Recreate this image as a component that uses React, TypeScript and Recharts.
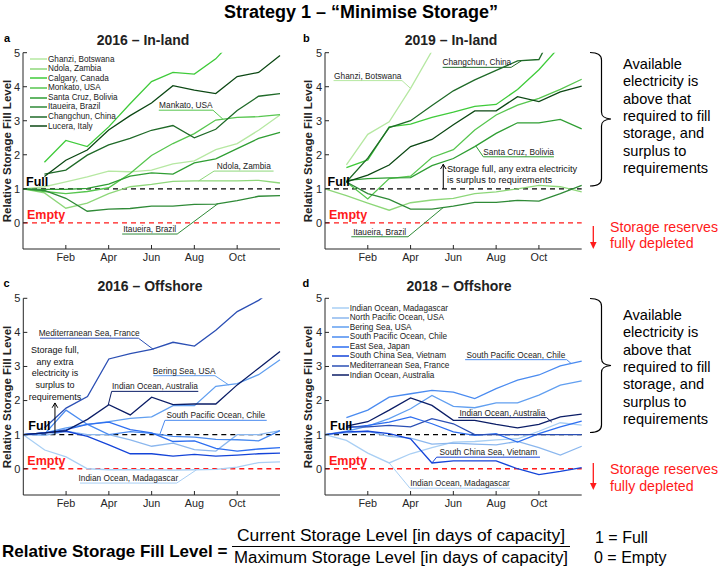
import React from "react";
import {
  LineChart,
  Line,
  XAxis,
  YAxis,
  ReferenceLine,
  ReferenceDot,
  Legend,
} from "recharts";

const FONT = '"Liberation Sans", Arial, Helvetica, sans-serif';

// month steps (0 = start of Jan ... 12 = end of Dec)
const MONTHS = [0, 1, 2, 3, 4, 5, 6, 7, 8, 9, 10, 11, 12];
const TICK_MONTHS = [2, 4, 6, 8, 10];
const TICK_LABELS = ["Feb", "Apr", "Jun", "Aug", "Oct"];
const Y_TICKS = [0, 1, 2, 3, 4, 5];
const Y_DOMAIN: [number, number] = [-0.77, 5];

const INLAND_SITES = [
  "Ghanzi, Botswana",
  "Ndola, Zambia",
  "Calgary, Canada",
  "Monkato, USA",
  "Santa Cruz, Bolivia",
  "Itaueira, Brazil",
  "Changchun, China",
  "Lucera, Italy",
];

const OFFSHORE_SITES = [
  "Indian Ocean, Madagascar",
  "North Pacific Ocean, USA",
  "Bering Sea, USA",
  "South Pacific Ocean, Chile",
  "East Sea, Japan",
  "South China Sea, Vietnam",
  "Mediterranean Sea, France",
  "Indian Ocean, Australia",
];

const GREENS = ["#b6e8a2", "#8ed77a", "#3fcb3a", "#57c64f", "#2f9e33", "#2f8a37", "#1f6a28", "#0c4814"];
const BLUES = ["#a9cff4", "#8bb7ee", "#619ff0", "#4a8bf0", "#2d6ef0", "#1444d8", "#2b4fb4", "#0b1d66"];

// one list per site, in the order of the site lists above
const INLAND_2016: (number | null)[][] = [
  [1.0, 1.06, 1.2, 1.35, 1.52, 1.5, 1.55, 1.73, 1.82, 2.15, 2.33, 2.72, 3.17],
  [1.0, 0.88, 0.43, 0.58, 0.86, 1.06, 1.13, 1.22, 1.23, 1.23, 1.23, 1.25, 1.17],
  [null, 1.78, 2.42, 2.24, 2.82, 3.5, 4.15, 4.42, 4.37, 4.82, 5.5, 6.1, 6.6],
  [1.0, 0.92, 0.86, 0.92, 1.03, 1.45, 1.98, 2.33, 2.62, 3.02, 3.1, 3.12, 3.18],
  [1.0, 0.98, 0.98, 1.01, 1.14, 1.37, 1.47, 1.43, 1.76, 1.88, 2.18, 2.48, 2.66],
  [1.0, 0.95, 0.72, 0.34, 0.4, 0.42, 0.49, 0.49, 0.54, 0.55, 0.65, 0.78, 0.8],
  [null, 1.43, 1.55, 1.99, 2.29, 2.48, 2.72, 2.86, 2.5, 2.75, 3.3, 3.72, 3.8],
  [null, 1.36, 1.84, 2.14, 2.73, 3.15, 3.52, 4.03, 3.9, 3.8, 4.3, 4.42, 4.92],
];

const INLAND_2019: (number | null)[][] = [
  [null, 1.7, 2.6, 2.97, 3.95, 5.05, 6.0, 6.8, 7.5, 8.0, 8.5, 9.0, 9.5],
  [1.0, 0.8, 0.58, 0.37, 0.59, 0.67, 0.72, 0.86, 0.91, 1.0, 1.1, 1.06, 0.91],
  [null, 1.62, 1.85, 2.82, 2.9, 3.1, 3.25, 3.42, 3.48, 3.92, 4.5, 5.2, 5.9],
  [null, 1.2, 0.7, 1.3, 1.37, 1.92, 2.15, 2.73, 3.17, 3.46, 3.66, 3.92, 4.22],
  [null, 1.25, 1.3, 1.32, 1.33, 1.68, 1.89, 2.24, 2.63, 2.94, 2.94, 3.04, 2.76],
  [null, 1.2, 0.86, 0.69, 0.4, 0.4, 0.49, 0.6, 0.6, 0.66, 0.64, 0.86, 1.1],
  [null, 1.2, 1.9, 2.8, 3.0, 3.45, 3.88, 4.2, 4.48, 4.76, 4.8, 6.0, 7.0],
  [null, 1.2, 1.4, 1.7, 2.24, 2.45, 2.88, 3.29, 3.29, 3.71, 3.56, 3.85, 4.02],
];

const OFFSHORE_2016: (number | null)[][] = [
  [1.0, 0.55, 0.35, 0.0, -0.03, -0.03, -0.03, -0.04, -0.03, -0.02, 0.05, 0.18, 0.2],
  [1.0, 0.98, 1.1, 1.0, 1.0, 0.85, 0.66, 0.75, 0.56, 0.52, 1.0, 1.0, 1.12],
  [1.0, 1.05, 1.2, 1.3, 1.38, 1.48, 1.52, 1.85, 1.85, 2.42, 2.5, 2.76, 3.2],
  [1.0, 1.02, 1.72, 1.3, 1.0, 1.09, 1.04, 0.95, 0.93, 0.86, 0.85, 0.82, 1.12],
  [1.0, 1.05, 1.15, 1.3, 1.37, 1.15, 1.05, 0.8, 0.82, 0.6, 0.52, 0.58, 0.62],
  [1.0, 1.05, 1.1, 0.95, 0.7, 0.44, 0.44, 0.37, 0.42, 0.37, 0.4, 0.44, 0.46],
  [null, 1.2, 1.78, 2.12, 3.22, 3.38, 3.5, 3.71, 3.6, 4.06, 4.61, 4.94, 5.4],
  [1.0, 1.05, 1.12, 1.45, 1.88, 1.58, 2.1, 1.88, 1.9, 1.9, 2.46, 2.95, 3.44],
];

const OFFSHORE_2018: (number | null)[][] = [
  [1.0, 0.83, 0.46, 0.17, 0.44, 0.62, 0.78, 0.8, 0.85, 0.88, 1.1, 1.35, 1.28],
  [1.0, 1.05, 1.1, 0.95, 0.9, 0.72, 0.75, 0.72, 0.7, 0.8, 0.62, 0.4, 0.66],
  [1.0, 1.1, 1.25, 1.47, 1.76, 2.15, 1.83, 1.79, 1.93, 1.93, 2.16, 2.45, 2.58],
  [null, 1.5, 1.72, 2.1, 2.2, 2.3, 2.25, 2.06, 2.35, 2.6, 2.75, 3.02, 3.16],
  [null, 1.2, 1.27, 1.37, 1.52, 1.32, 1.08, 0.98, 1.03, 0.78, 1.03, 1.23, 1.4],
  [1.0, 1.08, 1.1, 1.03, 0.88, 0.17, 0.23, 0.23, 0.23, 0.0, -0.17, -0.08, 0.03],
  [null, 1.23, 1.23, 1.27, 1.23, 1.47, 1.32, 1.0, 1.0, 1.0, 1.0, 1.0, 1.0],
  [null, 1.25, 1.38, 1.72, 2.08, 1.86, 1.42, 1.42, 1.3, 1.2, 1.3, 1.52, 1.6],
];

type Callout = {
  text: string;
  series: number;
  under: [number, number, number]; // x1, x2, y of the underline
  tip: [number, number]; // point on the series
};

const CALLOUTS_A: Callout[] = [
  { text: "Mankato, USA", series: 3, under: [6.34, 8.87, 3.31], tip: [9.33, 3.05] },
  { text: "Ndola, Zambia", series: 1, under: [8.92, 11.7, 1.52], tip: [8.2, 1.23] },
  { text: "Itaueira, Brazil", series: 5, under: [4.63, 7.2, -0.33], tip: [9.1, 0.56] },
];
const CALLOUTS_B: Callout[] = [
  { text: "Ghanzi, Botswana", series: 0, under: [0.4, 3.6, 4.18], tip: [4.0, 3.95] },
  { text: "Changchun, China", series: 6, under: [5.5, 8.7, 4.57], tip: [9.2, 4.77] },
  { text: "Santa Cruz, Bolivia", series: 4, under: [7.4, 10.7, 1.94], tip: [7.05, 2.26] },
  { text: "Itaueira, Brazil", series: 5, under: [1.23, 3.88, -0.41], tip: [5.53, 0.45] },
];
const CALLOUTS_C: Callout[] = [
  { text: "Mediterranean Sea, France", series: 6, under: [0.78, 5.38, 3.83], tip: [6.08, 3.5] },
  { text: "Bering Sea, USA", series: 2, under: [6.08, 8.96, 2.73], tip: [9.6, 2.46] },
  { text: "Indian Ocean, Australia", series: 7, under: [4.13, 8.18, 2.27], tip: [3.97, 1.87] },
  { text: "South Pacific Ocean, Chile", series: 3, under: [6.62, 11.38, 1.42], tip: [6.39, 1.02] },
  { text: "Indian Ocean, Madagascar", series: 0, under: [2.65, 7.17, -0.42], tip: [8.1, -0.03] },
];
const CALLOUTS_D: Callout[] = [
  { text: "South Pacific Ocean, Chile", series: 3, under: [6.55, 11.3, 3.2], tip: [11.5, 3.09] },
  { text: "Indian Ocean, Australia", series: 7, under: [6.23, 10.36, 1.5], tip: [10.6, 1.37] },
  { text: "South China Sea, Vietnam", series: 5, under: [5.22, 10.05, 0.34], tip: [5.0, 0.17] },
  { text: "Indian Ocean, Madagascar", series: 0, under: [3.97, 8.65, -0.57], tip: [3.0, 0.17] },
];

const RIGHT_NOTE = [
  "Available",
  "electricity is",
  "above that",
  "required to fill",
  "storage, and",
  "surplus to",
  "requirements",
];

function buildRows(values: (number | null)[][]) {
  return MONTHS.map((m, i) => {
    const row: Record<string, number | null> = { m };
    values.forEach((v, k) => {
      row["s" + k] = v[i];
    });
    return row;
  });
}

function calloutMarks(c: Callout, colors: string[], key: string) {
  const [x1, x2, y] = c.under;
  const from = c.tip[0] < (x1 + x2) / 2 ? x1 : x2;
  const color = colors[c.series];
  return [
    <ReferenceLine
      key={key + "u"}
      segment={[{ x: x1, y }, { x: x2, y }]}
      stroke={color}
      strokeWidth={1}
      label={{ value: c.text, position: "top", offset: 2, fontSize: 8.3, fill: "#222", fontFamily: FONT }}
    />,
    <ReferenceLine
      key={key + "l"}
      segment={[{ x: from, y }, { x: c.tip[0], y: c.tip[1] }]}
      stroke={color}
      strokeWidth={1}
    />,
  ];
}

function arrowMarks(key: string, x: number, y0: number, y1: number) {
  const hx = 0.13;
  const hy = 0.14;
  return [
    <ReferenceLine key={key + "s"} segment={[{ x, y: y0 }, { x, y: y1 }]} stroke="#000" strokeWidth={1} />,
    <ReferenceLine key={key + "a"} segment={[{ x: x - hx, y: y1 - hy }, { x, y: y1 }]} stroke="#000" strokeWidth={1} />,
    <ReferenceLine key={key + "b"} segment={[{ x: x + hx, y: y1 - hy }, { x, y: y1 }]} stroke="#000" strokeWidth={1} />,
  ];
}

function noteMark(key: string, x: number, y: number, lines: string[], anchor: string, size: number, gap: number) {
  return (
    <ReferenceDot
      key={key}
      x={x}
      y={y}
      r={0}
      fill="none"
      stroke="none"
      label={(p: any) => {
        const vb = p.viewBox || {};
        return (
          <text x={vb.x} y={vb.y} textAnchor={anchor as any} fontSize={size} fontFamily={FONT} fill="#111">
            {lines.map((t, i) => (
              <tspan key={i} x={vb.x} dy={i === 0 ? 0 : gap}>
                {t}
              </tspan>
            ))}
          </text>
        );
      }}
    />
  );
}

function renderLegend(props: any) {
  const items = props.payload || [];
  return (
    <div style={{ fontFamily: FONT, fontSize: 8.2, color: "#222", lineHeight: "9.6px" }}>
      {items.map((it: any, i: number) => (
        <div key={i} style={{ display: "flex", alignItems: "center", whiteSpace: "nowrap", height: 9.6 }}>
          <svg width={17} height={6} style={{ flex: "none" }}>
            <line x1={0} y1={3} x2={17} y2={3} stroke={it.color} strokeWidth={1.5} />
          </svg>
          <span style={{ marginLeft: 1 }}>{it.value}</span>
        </div>
      ))}
    </div>
  );
}

type PanelProps = {
  left: number;
  top: number;
  marginTop: number;
  marginRight: number;
  yAxisWidth: number;
  values: (number | null)[][];
  names: string[];
  colors: string[];
  callouts: Callout[];
  fullOffset: number;
  legendPos?: { top: number; left: number };
  extras?: React.ReactNode[];
};

function Panel(p: PanelProps) {
  const rows = buildRows(p.values);
  const axisColor = "#262626";
  const tickStyle = { fontSize: 10.8, fill: "#262626", fontFamily: FONT };
  return (
    <div style={{ position: "absolute", left: p.left, top: p.top }}>
      <LineChart
        width={290}
        height={240}
        data={rows}
        margin={{ top: p.marginTop, right: p.marginRight, bottom: 0, left: 0 }}
      >
        <XAxis
          dataKey="m"
          type="number"
          domain={[0, 12]}
          ticks={TICK_MONTHS}
          tickFormatter={(v: number) => TICK_LABELS[TICK_MONTHS.indexOf(v)] ?? ""}
          height={21}
          tickSize={-4}
          tickMargin={8}
          tick={tickStyle}
          stroke={axisColor}
        />
        <XAxis
          xAxisId="top"
          orientation="top"
          dataKey="m"
          type="number"
          domain={[0, 12]}
          ticks={TICK_MONTHS}
          height={0}
          tickSize={-4}
          tick={false}
          stroke={axisColor}
        />
        <YAxis
          type="number"
          domain={Y_DOMAIN}
          ticks={Y_TICKS}
          allowDataOverflow
          width={p.yAxisWidth}
          tickSize={-4}
          tickMargin={7}
          tick={{ ...tickStyle, fontSize: 11 }}
          stroke={axisColor}
        />
        <YAxis
          yAxisId="right"
          orientation="right"
          type="number"
          domain={Y_DOMAIN}
          ticks={Y_TICKS}
          allowDataOverflow
          width={0}
          tickSize={-4}
          tick={false}
          stroke={axisColor}
        />
        <ReferenceLine
          y={1}
          stroke="#000"
          strokeDasharray="5 4"
          strokeWidth={1.3}
          label={{
            value: "Full",
            position: "insideBottomLeft",
            offset: p.fullOffset,
            fill: "#000",
            fontWeight: "bold",
            fontSize: 12.5,
            fontFamily: FONT,
          }}
        />
        <ReferenceLine
          y={0}
          stroke="#ff1a1a"
          strokeDasharray="5 4"
          strokeWidth={1.3}
          label={{
            value: "Empty",
            position: "insideBottomLeft",
            offset: 4,
            fill: "#ff1a1a",
            fontWeight: "bold",
            fontSize: 12.5,
            fontFamily: FONT,
          }}
        />
        {p.names.map((n, k) => (
          <Line
            key={n}
            dataKey={"s" + k}
            name={n}
            stroke={p.colors[k]}
            strokeWidth={1.3}
            dot={false}
            isAnimationActive={false}
          />
        ))}
        {p.callouts.flatMap((c, i) => calloutMarks(c, p.colors, "c" + i))}
        {p.extras}
        {p.legendPos && (
          <Legend
            layout="vertical"
            align="center"
            verticalAlign="middle"
            itemSorter="dataKey"
            wrapperStyle={{ top: p.legendPos.top, left: p.legendPos.left, width: 140, height: 78 }}
            content={renderLegend}
          />
        )}
      </LineChart>
    </div>
  );
}

export default function App() {
  const txt = { fontFamily: FONT };
  return (
    <div
      style={{
        position: "absolute",
        left: 0,
        top: 0,
        width: 722,
        height: 572,
        background: "#fff",
        overflow: "hidden",
      }}
    >
      <Panel
        left={0}
        top={30}
        marginTop={22.7}
        marginRight={10}
        yAxisWidth={23}
        values={INLAND_2016}
        names={INLAND_SITES}
        colors={GREENS}
        callouts={CALLOUTS_A}
        fullOffset={3}
        legendPos={{ top: 24.5, left: 30 }}
      />
      <Panel
        left={300}
        top={30}
        marginTop={22.7}
        marginRight={8.3}
        yAxisWidth={25}
        values={INLAND_2019}
        names={INLAND_SITES}
        colors={GREENS}
        callouts={CALLOUTS_B}
        fullOffset={2.5}
        extras={[
          ...arrowMarks("ab", 5.53, 1.0, 1.72),
          noteMark(
            "nb",
            5.7,
            1.48,
            ["Storage full, any extra electricity", "is surplus to requirements"],
            "start",
            9.2,
            11
          ),
        ]}
      />
      <Panel
        left={0}
        top={276}
        marginTop={22.3}
        marginRight={10}
        yAxisWidth={23.3}
        values={OFFSHORE_2016}
        names={OFFSHORE_SITES}
        colors={BLUES}
        callouts={CALLOUTS_C}
        fullOffset={5}
        extras={[
          ...arrowMarks("ac", 1.48, 1.0, 1.93),
          noteMark(
            "nc",
            1.48,
            3.4,
            ["Storage full,", "any extra", "electricity is", "surplus to", "requirements"],
            "middle",
            9,
            11.7
          ),
        ]}
      />
      <Panel
        left={300}
        top={276}
        marginTop={22.3}
        marginRight={8.3}
        yAxisWidth={25}
        values={OFFSHORE_2018}
        names={OFFSHORE_SITES}
        colors={BLUES}
        callouts={CALLOUTS_D}
        fullOffset={5}
        legendPos={{ top: 27.5, left: 31.7 }}
      />

      <svg
        width={722}
        height={572}
        style={{ position: "absolute", left: 0, top: 0, pointerEvents: "none" }}
      >
        <text x={361} y={18} textAnchor="middle" fontSize={18} fontWeight="bold" fill="#000" style={txt}>
          Strategy 1 – “Minimise Storage”
        </text>

        {/* panel letters and titles */}
        <text x={4} y={42} fontSize={11} fontWeight="bold" style={txt}>a</text>
        <text x={303} y={42} fontSize={11} fontWeight="bold" style={txt}>b</text>
        <text x={3.5} y={287} fontSize={11} fontWeight="bold" style={txt}>c</text>
        <text x={302.5} y={287} fontSize={11} fontWeight="bold" style={txt}>d</text>
        <text x={143} y={45} textAnchor="middle" fontSize={14} fontWeight="bold" fill="#222" style={txt}>
          2016 – In-land
        </text>
        <text x={451} y={45} textAnchor="middle" fontSize={14} fontWeight="bold" fill="#222" style={txt}>
          2019 – In-land
        </text>
        <text x={150} y={290.7} textAnchor="middle" fontSize={14} fontWeight="bold" fill="#222" style={txt}>
          2016 – Offshore
        </text>
        <text x={459} y={290.7} textAnchor="middle" fontSize={14} fontWeight="bold" fill="#222" style={txt}>
          2018 – Offshore
        </text>

        {/* y axis titles */}
        {[
          [11, 151],
          [312, 151],
          [11, 397],
          [311.5, 397],
        ].map(([x, y], i) => (
          <text
            key={i}
            x={x}
            y={y}
            transform={`rotate(-90 ${x} ${y})`}
            textAnchor="middle"
            fontSize={11.5}
            fontWeight="bold"
            fill="#222"
            style={txt}
          >
            Relative Storage Fill Level
          </text>
        ))}

        {/* right-hand notes */}
        <path
          d="M590,52.5 C597,52.5 601.5,54 601.5,60 L601.5,112 C601.5,116.5 604,118.5 611,119 C604,119.5 601.5,121.5 601.5,126 L601.5,178.5 C601.5,184.5 597,186 590,186"
          fill="none"
          stroke="#000"
          strokeWidth={1.2}
        />
        <path
          d="M590,298.5 C597,298.5 601.5,300 601.5,306 L601.5,358.5 C601.5,363 604,365 611,365.5 C604,366 601.5,368 601.5,372.5 L601.5,425 C601.5,431 597,432.5 590,432.5"
          fill="none"
          stroke="#000"
          strokeWidth={1.2}
        />
        {[69, 320].map((y0, j) => (
          <text key={j} x={623} y={y0} fontSize={14.6} fill="#000" style={txt}>
            {RIGHT_NOTE.map((t, i) => (
              <tspan key={i} x={623} dy={i === 0 ? 0 : 17.3}>
                {t}
              </tspan>
            ))}
          </text>
        ))}
        {[
          [226, 249],
          [463, 490],
        ].map(([y1, y2], j) => (
          <g key={j}>
            <line x1={593.3} y1={y1} x2={593.3} y2={y2 - 5} stroke="#ff1a1a" strokeWidth={1.3} />
            <polygon points={`593.3,${y2} 590,${y2 - 7} 596.6,${y2 - 7}`} fill="#ff1a1a" />
          </g>
        ))}
        {[
          [231.7, 248.3],
          [474, 490.7],
        ].map(([a, b], j) => (
          <g key={j} fill="#ff1a1a" fontSize={14.2} style={txt}>
            <text x={610} y={a}>Storage reserves</text>
            <text x={610} y={b}>fully depleted</text>
          </g>
        ))}

        {/* formula */}
        <text x={2} y={557} fontSize={17} fontWeight="bold" fill="#000" style={txt}>
          Relative Storage Fill Level =
        </text>
        <text x={401} y={541} textAnchor="middle" fontSize={16} fill="#000" textLength={328} lengthAdjust="spacingAndGlyphs" style={txt}>
          Current Storage Level [in days of capacity]
        </text>
        <line x1={232} y1={546.5} x2={570} y2={546.5} stroke="#000" strokeWidth={1} />
        <text x={401} y={563} textAnchor="middle" fontSize={16} fill="#000" textLength={334} lengthAdjust="spacingAndGlyphs" style={txt}>
          Maximum Storage Level [in days of capacity]
        </text>
        <text x={595} y={543} fontSize={16} fill="#000" style={txt}>
          1 = Full
        </text>
        <text x={594} y={563} fontSize={16} fill="#000" style={txt}>
          0 = Empty
        </text>
      </svg>
    </div>
  );
}
